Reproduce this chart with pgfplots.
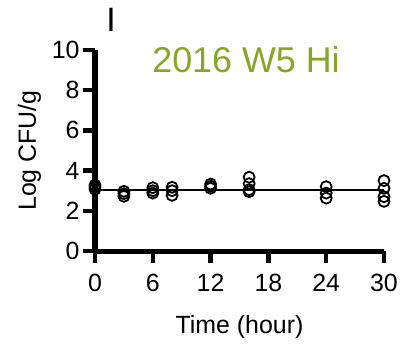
\documentclass[border=0pt]{standalone}
\usepackage{pgfplots}
\pgfplotsset{compat=1.18}
\usepackage{fontspec}
\setmainfont{Liberation Sans}
\definecolor{titlegreen}{RGB}{135,166,40}
\begin{document}
\begin{tikzpicture}
\useasboundingbox (0bp,0bp) rectangle (401bp,-345bp);
\begin{axis}[
  at={(95bp,-251bp)}, anchor=south west,
  scale only axis, width=289bp, height=201bp,
  xmin=0, xmax=30, ymin=0, ymax=10,
  axis lines=left,
  axis line style={line width=5bp, black, -},
  tick style={line width=4.5bp, black},
  xtick={0,6,12,18,24,30}, ytick={0,2,4,6,8,10},
  major tick length=12bp, tick align=outside,
  tick label style={font=\fontsize{25}{28}\selectfont},
  /pgf/number format/assume math mode=true,
  xticklabel style={yshift=-8bp},
  xlabel={Time (hour)}, ylabel={Log CFU/g},
  label style={font=\fontsize{25}{28}\selectfont},
  xlabel style={yshift=-16bp},
  ylabel style={yshift=4bp},
  clip=false,
]
% flat line through the overall mean
\addplot[black, line width=1.3pt] coordinates {(0,3.04) (30,3.04)};
% individual replicate counts
\addplot[only marks, mark=o, mark size=5.5bp,
  mark options={fill=white, draw=black, line width=1.8pt}]
  coordinates {
  (0,3.28) (0,3.18) (0,3.07)
  (3,2.97) (3,2.85) (3,2.72)
  (6,3.15) (6,3.00) (6,2.88)
  (8,3.17) (8,3.00) (8,2.77)
  (12,3.33) (12,3.22) (12,3.12)
  (16,3.67) (16,3.35) (16,3.05) (16,2.95)
  (24,3.20) (24,2.88) (24,2.63)
  (30,3.50) (30,3.12) (30,2.70) (30,2.47)
  };
\end{axis}
\node[font=\fontsize{34}{36}\selectfont, anchor=center] at (111bp,-20bp) {I};
\node[font=\fontsize{36}{40}\selectfont, text=titlegreen, anchor=center] at (246bp,-60bp) {2016 W5 Hi};
\end{tikzpicture}
\end{document}
